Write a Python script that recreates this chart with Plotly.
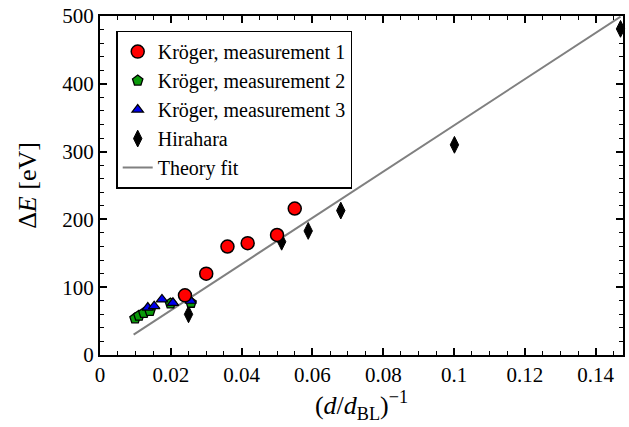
import plotly.graph_objects as go

# Kröger, measurement 1
m1_x = [0.024, 0.030, 0.036, 0.0417, 0.050, 0.055]
m1_y = [88, 120, 160, 165, 177, 216]
# Kröger, measurement 2
m2_x = [0.0099, 0.011, 0.0124, 0.0141, 0.0199, 0.0257]
m2_y = [54, 58, 62, 65, 76, 77]
# Kröger, measurement 3
m3_x = [0.0135, 0.0153, 0.0175, 0.0206, 0.0256]
m3_y = [70, 72, 82, 77, 80]
# Hirahara
h_x = [0.025, 0.0513, 0.0588, 0.068, 0.1001, 0.147]
h_y = [60, 167, 183, 213, 310, 481]
# Theory fit
t_x = [0.0095, 0.147]
t_y = [30, 499]

x_ticks = [0, 0.02, 0.04, 0.06, 0.08, 0.1, 0.12, 0.14]
x_ticklabels = ["0", "0.02", "0.04", "0.06", "0.08", "0.1", "0.12", "0.14"]
x_minor = [0.005, 0.01, 0.015, 0.025, 0.03, 0.035, 0.045, 0.05, 0.055, 0.065, 0.07, 0.075,
           0.085, 0.09, 0.095, 0.105, 0.11, 0.115, 0.125, 0.13, 0.135, 0.145]
y_ticks = [0, 100, 200, 300, 400, 500]
y_minor = [20, 40, 60, 80, 120, 140, 160, 180, 220, 240, 260, 280, 320, 340, 360, 380,
           420, 440, 460, 480]
X_RANGE = [0, 0.1477]
Y_RANGE = [0, 500]

FONT = "Liberation Serif"
W, H = 629, 427
ML, MR, MT, MB = 100, 4, 16, 72

fig = go.Figure()
fig.add_trace(go.Scatter(x=t_x, y=t_y, mode="lines", name="Theory fit", legendrank=5,
                         line=dict(color="#808080", width=2)))
fig.add_trace(go.Scatter(x=h_x, y=h_y, mode="markers", name="Hirahara", legendrank=4,
                         cliponaxis=False,
                         marker=dict(symbol="diamond-tall", size=12, color="black",
                                     line=dict(color="black", width=1))))
fig.add_trace(go.Scatter(x=m2_x, y=m2_y, mode="markers", name="Kröger, measurement 2",
                         legendrank=2,
                         marker=dict(symbol="pentagon", size=11, color="#0a9a0a",
                                     line=dict(color="black", width=1.3))))
fig.add_trace(go.Scatter(x=m3_x, y=m3_y, mode="markers", name="Kröger, measurement 3",
                         legendrank=3,
                         marker=dict(symbol="triangle-up", size=10, color="#0000ee",
                                     line=dict(color="black", width=1.2))))
fig.add_trace(go.Scatter(x=m1_x, y=m1_y, mode="markers", name="Kröger, measurement 1",
                         legendrank=1,
                         marker=dict(symbol="circle", size=13, color="#ff0000",
                                     line=dict(color="black", width=1.5))))

axis_common = dict(showline=True, linecolor="black", linewidth=2, mirror="allticks",
                   ticks="inside", ticklen=7, tickwidth=1.6, tickcolor="black",
                   showgrid=False, zeroline=False,
                   tickfont=dict(family=FONT, size=21, color="black"))

fig.update_layout(
    width=W, height=H,
    margin=dict(l=ML, r=MR, t=MT, b=MB),
    paper_bgcolor="white", plot_bgcolor="white",
    font=dict(family=FONT, size=20, color="black"),
    xaxis=dict(range=X_RANGE, tickmode="array", tickvals=x_ticks, ticktext=x_ticklabels,
               minor=dict(tickmode="array", tickvals=x_minor, ticks="inside", ticklen=4,
                          tickwidth=1.2, tickcolor="black", showgrid=False),
               title=dict(text="(<i>d</i>/<i>d</i><sub>BL</sub>)<sup>−1</sup>",
                          font=dict(family=FONT, size=26), standoff=10),
               **axis_common),
    yaxis=dict(range=Y_RANGE, tickmode="array", tickvals=y_ticks,
               minor=dict(tickmode="array", tickvals=y_minor, ticks="inside", ticklen=4,
                          tickwidth=1.2, tickcolor="black", showgrid=False),
               title=dict(text="Δ<i>E</i> [eV]", font=dict(family=FONT, size=26), standoff=18),
               **axis_common),
    legend=dict(x=0.031, y=0.957, xanchor="left", yanchor="top",
                traceorder="normal",
                bordercolor="black", borderwidth=1.5, bgcolor="white",
                font=dict(family=FONT, size=20), tracegroupgap=0,
                itemwidth=30),
)

fig.write_html("out.html", config={"displayModeBar": False},
               post_script="document.body.style.margin='0px';document.body.style.overflow='hidden';")
